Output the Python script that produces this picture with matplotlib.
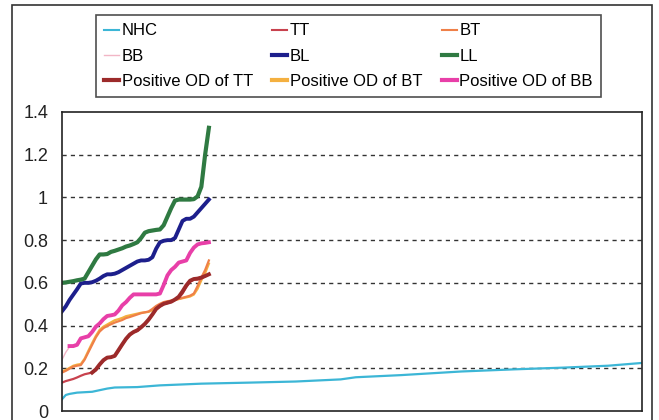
import matplotlib
matplotlib.use("Agg")
import matplotlib.pyplot as plt
from matplotlib.lines import Line2D
from matplotlib.patches import Rectangle

plt.rcParams['font.family'] = ['Liberation Sans', 'DejaVu Sans']

# Sorted optical-density readings, one value per sample (index 0..39)
ll = [0.600, 0.602, 0.605, 0.608, 0.612, 0.615, 0.620, 0.650, 0.680, 0.710,
      0.733, 0.733, 0.735, 0.745, 0.750, 0.756, 0.762, 0.770, 0.775, 0.782,
      0.790, 0.810, 0.835, 0.842, 0.845, 0.848, 0.850, 0.870, 0.910, 0.950,
      0.985, 0.990, 0.990, 0.990, 0.990, 0.992, 1.005, 1.050, 1.200, 1.326]
bl = [0.467, 0.490, 0.520, 0.545, 0.570, 0.597, 0.600, 0.600, 0.603, 0.610,
      0.620, 0.632, 0.640, 0.640, 0.643, 0.650, 0.660, 0.670, 0.680, 0.690,
      0.700, 0.705, 0.705, 0.708, 0.720, 0.760, 0.790, 0.797, 0.800, 0.800,
      0.810, 0.850, 0.890, 0.900, 0.900, 0.910, 0.930, 0.950, 0.970, 0.990]
pos_bb = [None, None, 0.304, 0.304, 0.310, 0.340, 0.345, 0.350, 0.370, 0.395,
          0.410, 0.430, 0.445, 0.448, 0.452, 0.470, 0.495, 0.510, 0.530, 0.546,
          0.546, 0.546, 0.546, 0.546, 0.546, 0.546, 0.550, 0.590, 0.635, 0.660,
          0.675, 0.695, 0.700, 0.705, 0.740, 0.765, 0.780, 0.785, 0.787, 0.790]
bb = [0.240, 0.275, 0.300, 0.304, 0.310, 0.340, 0.345, 0.350, 0.370, 0.395,
      0.410, 0.430, 0.445, 0.448, 0.452, 0.470, 0.495, 0.510, 0.530, 0.546,
      0.546, 0.546, 0.546, 0.546, 0.546, 0.546, 0.550, 0.590, 0.635, 0.660,
      0.675, 0.695, 0.700, 0.705, 0.740, 0.765, 0.780, 0.785, 0.787, 0.790]
bt = [0.180, 0.188, 0.198, 0.208, 0.212, 0.215, 0.240, 0.275, 0.310, 0.345,
      0.372, 0.388, 0.398, 0.406, 0.414, 0.420, 0.426, 0.435, 0.440, 0.446,
      0.452, 0.458, 0.462, 0.466, 0.478, 0.492, 0.502, 0.510, 0.514, 0.517,
      0.520, 0.525, 0.530, 0.535, 0.540, 0.550, 0.585, 0.625, 0.660, 0.705]
pos_bt = [0.185, 0.192, 0.202, 0.212, 0.217, 0.220, 0.245, 0.282, 0.318, 0.352,
          0.380, 0.395, 0.405, 0.415, 0.425, 0.430, 0.436, 0.444, 0.448, 0.452,
          0.456, 0.460, 0.462, 0.464, 0.472, 0.486, 0.497, 0.506, 0.512, 0.516,
          0.520, 0.524, 0.528, 0.532, 0.536, 0.545, 0.572, 0.612, 0.645, 0.690]
tt = [0.133, 0.140, 0.145, 0.150, 0.157, 0.165, 0.172, 0.176, 0.180, 0.190,
      0.215, 0.235, 0.250, 0.252, 0.256, 0.280, 0.310, 0.335, 0.355, 0.368,
      0.375, 0.390, 0.405, 0.425, 0.450, 0.475, 0.490, 0.500, 0.505, 0.510,
      0.520, 0.530, 0.550, 0.580, 0.605, 0.615, 0.616, 0.620, 0.630, 0.640]
pos_tt = [None, None, None, None, None, None, None, None, 0.180, 0.195,
          0.218, 0.238, 0.250, 0.252, 0.258, 0.285, 0.312, 0.338, 0.358, 0.370,
          0.378, 0.392, 0.408, 0.428, 0.452, 0.478, 0.492, 0.502, 0.507, 0.512,
          0.522, 0.535, 0.560, 0.588, 0.610, 0.618, 0.620, 0.625, 0.632, 0.640]

# NHC: sample index and value at the readable points along its length
nhc_idx = [0, 1, 2, 4, 8, 12, 14, 20, 26, 37, 50, 62, 74, 78, 90, 106, 120, 133, 145, 154]
nhc_val = [0.055, 0.075, 0.080, 0.086, 0.090, 0.105, 0.110, 0.112, 0.120, 0.128,
           0.133, 0.138, 0.148, 0.158, 0.168, 0.185, 0.195, 0.203, 0.212, 0.225]

y_ticks = [0, 0.2, 0.4, 0.6, 0.8, 1, 1.2, 1.4]
y_labels = ['0', '0.2', '0.4', '0.6', '0.8', '1', '1.2', '1.4']

fig = plt.figure(figsize=(6.59, 4.20), dpi=100)
ax = fig.add_axes([62 / 659, 9 / 420, 580 / 659, 299 / 420])

def series(vals):
    xs = [i for i, v in enumerate(vals) if v is not None]
    ys = [v for v in vals if v is not None]
    return xs, ys

c = {
    'NHC': '#3cb6d6', 'TT': '#c8424e', 'BT': '#ef8048', 'BB': '#f2b6c6',
    'BL': '#1d1f8c', 'LL': '#2f7a42', 'pTT': '#9c2a2a', 'pBT': '#f4b040',
    'pBB': '#e83fa8',
}

ax.plot(nhc_idx, nhc_val, color=c['NHC'], lw=1.6)
ax.plot(*series(bb), color=c['BB'], lw=1.0)
ax.plot(*series(pos_bb), color=c['pBB'], lw=2.8)
ax.plot(*series(pos_bt), color=c['pBT'], lw=1.6)
ax.plot(*series(bt), color=c['BT'], lw=1.6)
ax.plot(*series(tt), color=c['TT'], lw=1.6)
ax.plot(*series(pos_tt), color=c['pTT'], lw=2.8)
ax.plot(*series(bl), color=c['BL'], lw=2.8)
ax.plot(*series(ll), color=c['LL'], lw=3.0)

ax.set_xlim(0, 154)
ax.set_ylim(0, 1.4)
ax.set_xticks([])
ax.set_yticks(y_ticks)
ax.set_yticklabels(y_labels, fontsize=13)
ax.tick_params(axis='y', length=0, pad=10)
for t in ax.get_yticklabels():
    t.set_color('#222222')
for y in y_ticks[1:-1]:
    ax.axhline(y, color='#333333', lw=1.0, ls=(0, (3, 3)), zorder=0)
for s in ax.spines.values():
    s.set_color('#222222')
    s.set_linewidth(1.2)

# legend laid out row by row in three columns
rows = [[('NHC', 'NHC', 1.5), ('TT', 'TT', 1.5), ('BT', 'BT', 1.5)],
        [('BB', 'BB', 1.0), ('BL', 'BL', 3.0), ('LL', 'LL', 3.0)],
        [('Positive OD of TT', 'pTT', 3.0), ('Positive OD of BT', 'pBT', 3.0),
         ('Positive OD of BB', 'pBB', 3.0)]]
handles, labels = [], []
for col in range(3):
    for r in range(3):
        name, key, w = rows[r][col]
        handles.append(Line2D([], [], color=c[key], lw=w))
        labels.append(name)
leg = fig.legend(handles, labels, ncol=3, loc='upper left', mode='expand',
                 bbox_to_anchor=(96 / 659, 1 - 98 / 420, 505 / 659, 83 / 420),
                 borderaxespad=0, fontsize=12,
                 frameon=True, fancybox=False, edgecolor='#222222',
                 handlelength=0.9, handletextpad=0.15,
                 labelspacing=0.62, borderpad=0.5)
leg.get_frame().set_linewidth(1.2)

# outer border around the figure
fig.patches.append(Rectangle((12 / 659, -0.05), 640 / 659, 1.05 - 5 / 420,
                             transform=fig.transFigure, fill=False,
                             edgecolor='#333333', lw=1.2))

fig.savefig('out.png', dpi=100)
